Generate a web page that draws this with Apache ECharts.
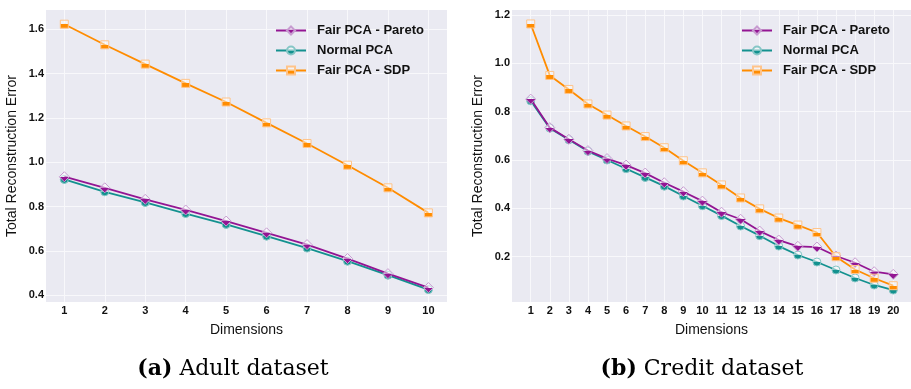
<!DOCTYPE html>
<html>
<head>
<meta charset="utf-8">
<script src="https://cdn.jsdelivr.net/npm/echarts@6/dist/echarts.min.js"></script>
<style>
html,body{margin:0;padding:0;background:#fff;}
#chart{width:911px;height:389px;}
</style>
</head>
<body>
<div id="chart"></div>
<script>
// ---- data ----
const seriesNames = ['Fair PCA - Pareto', 'Normal PCA', 'Fair PCA - SDP'];

const adultDims = [1, 2, 3, 4, 5, 6, 7, 8, 9, 10];
const adultPareto = [0.935, 0.885, 0.833, 0.785, 0.735, 0.682, 0.629, 0.566, 0.498, 0.435];
const adultNormal = [0.923, 0.867, 0.819, 0.769, 0.720, 0.667, 0.613, 0.554, 0.491, 0.426];
const adultSDP    = [1.623, 1.530, 1.443, 1.356, 1.272, 1.178, 1.085, 0.987, 0.885, 0.772];
const adultYTicks = [0.4, 0.6, 0.8, 1.0, 1.2, 1.4, 1.6];

const creditDims = [1, 2, 3, 4, 5, 6, 7, 8, 9, 10, 11, 12, 13, 14, 15, 16, 17, 18, 19, 20];
const creditPareto = [0.852, 0.734, 0.686, 0.639, 0.606, 0.579, 0.546, 0.506, 0.469, 0.430,
                      0.384, 0.355, 0.306, 0.269, 0.243, 0.240, 0.203, 0.175, 0.138, 0.127];
const creditNormal = [0.845, 0.732, 0.684, 0.636, 0.600, 0.564, 0.528, 0.492, 0.451, 0.411,
                      0.370, 0.327, 0.287, 0.244, 0.207, 0.178, 0.145, 0.112, 0.083, 0.062];
const creditSDP    = [1.163, 0.950, 0.892, 0.832, 0.786, 0.741, 0.697, 0.651, 0.597, 0.547,
                      0.497, 0.443, 0.398, 0.360, 0.331, 0.300, 0.200, 0.147, 0.111, 0.080];
const creditYTicks = [0.2, 0.4, 0.6, 0.8, 1.0, 1.2];

const captions = [['(a)', 'Adult dataset'], ['(b)', 'Credit dataset']];
const xName = 'Dimensions';
const yName = 'Total Reconstruction Error';

// ---- styles ----
const styles = [
  { dark: '#931593', light: '#c79bd0', symbol: 'diamond', size: 10 },
  { dark: '#13918f', light: '#86c6c6', symbol: 'circle', size: 8 },
  { dark: '#ff8c00', light: '#ffc48a', symbol: 'rect', size: 8 }
];
function halfFill(dark) {
  return {
    type: 'linear', x: 0, y: 0, x2: 0, y2: 1,
    colorStops: [
      { offset: 0, color: 'rgba(255,255,255,0.45)' },
      { offset: 0.5, color: 'rgba(255,255,255,0.45)' },
      { offset: 0.5, color: dark },
      { offset: 1, color: dark }
    ]
  };
}
const pair = (xs, ys) => xs.map((x, i) => [x, ys[i]]);

function makeSeries(gridIdx, xs, arrays) {
  return arrays.map((ys, k) => ({
    name: seriesNames[k],
    type: 'line',
    xAxisIndex: gridIdx,
    yAxisIndex: gridIdx,
    data: pair(xs, ys),
    symbol: styles[k].symbol,
    symbolSize: styles[k].size,
    showAllSymbol: true,
    lineStyle: { color: styles[k].dark, width: 1.8 },
    itemStyle: { color: halfFill(styles[k].dark), borderColor: styles[k].light, borderWidth: 1 },
    emphasis: { disabled: true },
    z: 2 + (k === 1 ? 0 : 1)
  }));
}

const tickFont = { fontFamily: 'Liberation Sans', fontWeight: 'bold', fontSize: 11, color: '#111' };
const gridLine = { show: true, lineStyle: { color: '#f8f8fb', width: 1 } };

function xAxis(gridIdx, xs, min, max) {
  return {
    type: 'value', gridIndex: gridIdx, min: min, max: max,
    name: xName, nameLocation: 'middle', nameGap: 21,
    nameTextStyle: { fontFamily: 'Liberation Sans', fontSize: 14, color: '#111' },
    axisLine: { show: false },
    axisTick: { show: false, customValues: xs },
    axisLabel: Object.assign({ customValues: xs, margin: 3 }, tickFont),
    splitLine: gridLine
  };
}
function yAxis(gridIdx, ticks, min, max) {
  return {
    type: 'value', gridIndex: gridIdx, min: min, max: max,
    name: yName, nameLocation: 'middle', nameGap: 27,
    nameTextStyle: { fontFamily: 'Liberation Sans', fontSize: 14, color: '#111' },
    axisLine: { show: false },
    axisTick: { show: false, customValues: ticks },
    axisLabel: Object.assign({ customValues: ticks, margin: 2, formatter: v => v.toFixed(1) }, tickFont),
    splitLine: gridLine
  };
}
function legend(left) {
  return {
    orient: 'vertical', left: left, top: 24, padding: 0,
    itemWidth: 30, itemHeight: 10, itemGap: 7,
    data: seriesNames,
    textStyle: { fontFamily: 'Liberation Sans', fontWeight: 'bold', fontSize: 13, color: '#111', padding: [0, 0, 0, 6] }
  };
}
function caption(cx, idx) {
  return {
    text: '{b|' + captions[idx][0] + '} ' + captions[idx][1],
    left: cx, top: 353, textAlign: 'center',
    textStyle: {
      fontFamily: 'DejaVu Serif', fontSize: 22, fontWeight: 'normal', color: '#000',
      rich: { b: { fontFamily: 'DejaVu Serif', fontSize: 22, fontWeight: 'bold', color: '#000' } }
    }
  };
}

const chart = echarts.init(document.getElementById('chart'), null, { renderer: 'canvas' });
chart.setOption({
  animation: false,
  backgroundColor: '#ffffff',
  title: [caption(228, 0), caption(697, 1)],
  legend: [legend(275), legend(741)],
  grid: [
    { left: 46, top: 10, width: 401, height: 292, show: true, backgroundColor: '#eaeaf2', borderWidth: 0 },
    { left: 512, top: 10, width: 399, height: 292, show: true, backgroundColor: '#eaeaf2', borderWidth: 0 }
  ],
  xAxis: [xAxis(0, adultDims, 0.547, 10.46), xAxis(1, creditDims, 0.02, 20.93)],
  yAxis: [yAxis(0, adultYTicks, 0.370, 1.687), yAxis(1, creditYTicks, 0.0126, 1.2207)],
  series: [].concat(
    makeSeries(0, adultDims, [adultPareto, adultNormal, adultSDP]),
    makeSeries(1, creditDims, [creditPareto, creditNormal, creditSDP])
  )
});
</script>
</body>
</html>
